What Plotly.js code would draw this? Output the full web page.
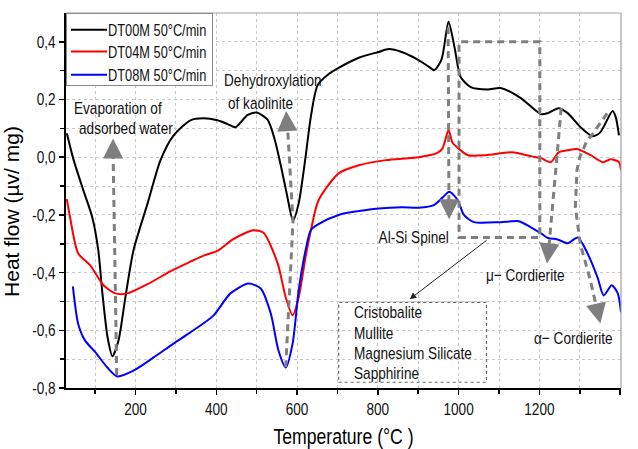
<!DOCTYPE html>
<html><head><meta charset="utf-8">
<script src="https://cdn.plot.ly/plotly-3.0.1.min.js"></script>
<style>html,body{margin:0;padding:0;background:#fff}#chart{width:638px;height:449px}</style>
</head><body><div id="chart"></div>
<script>
// ---- data ----
const seriesNames = ['DT00M 50°C/min', 'DT04M 50°C/min', 'DT08M 50°C/min'];
const seriesColors = ['#000000', '#ff0000', '#0000ff'];

const tempDT00M = [30, 47, 71, 93, 108, 118, 131, 143, 158, 175, 195, 230, 262, 294, 336, 368, 403, 428, 448, 477, 500, 527, 545, 560, 575, 590, 604, 621, 634, 651, 680, 703, 753, 802, 827, 859, 901, 925, 940, 958, 975, 990, 1005, 1030, 1072, 1104, 1154, 1204, 1221, 1248, 1270, 1302, 1332, 1351, 1381, 1389, 1397];
const flowDT00M = [0.083, -0.01, -0.115, -0.208, -0.323, -0.47, -0.625, -0.69, -0.635, -0.486, -0.323, -0.16, -0.01, 0.075, 0.128, 0.135, 0.128, 0.115, 0.104, 0.146, 0.155, 0.13, 0.06, -0.03, -0.13, -0.22, -0.16, 0.0, 0.139, 0.25, 0.29, 0.31, 0.345, 0.365, 0.375, 0.365, 0.337, 0.315, 0.302, 0.34, 0.47, 0.38, 0.278, 0.243, 0.235, 0.24, 0.205, 0.149, 0.153, 0.17, 0.153, 0.104, 0.073, 0.087, 0.16, 0.139, 0.076];

const tempDT04M = [30, 38, 58, 88, 121, 150, 180, 230, 287, 336, 370, 403, 443, 492, 517, 552, 572, 589, 604, 621, 634, 653, 703, 753, 820, 901, 946, 960, 975, 985, 1000, 1023, 1067, 1132, 1181, 1204, 1228, 1248, 1270, 1295, 1327, 1357, 1377, 1397, 1402];
const flowDT04M = [-0.145, -0.208, -0.333, -0.375, -0.444, -0.472, -0.472, -0.44, -0.395, -0.362, -0.34, -0.325, -0.283, -0.253, -0.262, -0.368, -0.486, -0.548, -0.486, -0.347, -0.255, -0.15, -0.056, -0.028, -0.01, 0.0, 0.014, 0.03, 0.094, 0.05, 0.03, 0.007, 0.007, 0.017, 0.003, -0.003, -0.017, 0.017, 0.024, 0.028, 0.007, -0.017, -0.007, -0.017, -0.045];

const tempDT08M = [45, 58, 75, 100, 131, 155, 195, 245, 294, 336, 393, 435, 480, 510, 535, 554, 572, 589, 604, 621, 634, 653, 703, 802, 859, 901, 940, 960, 977, 998, 1013, 1038, 1104, 1149, 1179, 1204, 1221, 1245, 1270, 1295, 1319, 1344, 1359, 1379, 1394, 1402];
const flowDT08M = [-0.448, -0.577, -0.635, -0.675, -0.73, -0.76, -0.74, -0.694, -0.646, -0.607, -0.549, -0.472, -0.438, -0.455, -0.542, -0.67, -0.729, -0.646, -0.462, -0.323, -0.253, -0.232, -0.2, -0.178, -0.173, -0.175, -0.165, -0.14, -0.12, -0.149, -0.2, -0.225, -0.225, -0.222, -0.243, -0.264, -0.28, -0.285, -0.298, -0.278, -0.333, -0.417, -0.479, -0.444, -0.472, -0.538];

const xTickVals = [200, 400, 600, 800, 1000, 1200, 1400];
const xTickText = ['200', '400', '600', '800', '1000', '1200', '1400'];
const xMinorVals = [100, 300, 500, 700, 900, 1100, 1300];
const yTickVals = [-0.8, -0.6, -0.4, -0.2, 0.0, 0.2, 0.4];
const yTickText = ['-0,8', '-0,6', '-0,4', '-0,2', '0,0', '0,2', '0,4'];
const yMinorVals = [-0.7, -0.5, -0.3, -0.1, 0.1, 0.3];

const boxLabels = ['Cristobalite', 'Mullite', 'Magnesium Silicate', 'Sapphirine'];

// ---- styling ----
const FONT = '"Liberation Sans", Arial, sans-serif';
const SQUEEZE = 0.8;   // the reference's lettering is horizontally condensed
const GRAY = '#7f7f7f';
const GRID = '#c8c8c8';

const temps = [tempDT00M, tempDT04M, tempDT08M];
const flows = [flowDT00M, flowDT04M, flowDT08M];
const traces = seriesNames.map((n, i) => ({
  x: temps[i], y: flows[i], name: n, type: 'scatter', mode: 'lines',
  line: {color: seriesColors[i], width: 2, shape: 'spline', smoothing: 0.7},
  cliponaxis: true
}));

function dashed(pts) {
  return {type: 'path', xref: 'x', yref: 'y', layer: 'above',
    path: 'M ' + pts.map(p => p[0] + ',' + p[1]).join(' L '),
    line: {color: GRAY, width: 3, dash: '7px,5px'}};
}
function head(x, y, ax, ay) {
  return {x: x, y: y, xref: 'x', yref: 'y', ax: ax, ay: ay, text: '', showarrow: true,
    arrowhead: 2, arrowsize: 1.15, arrowwidth: 3.5, arrowcolor: GRAY, standoff: 0};
}
function label(t, x, y, anchor) {
  return {x: x, y: y, xref: 'x', yref: 'y', text: t, showarrow: false,
    xanchor: anchor || 'left', yanchor: 'middle', font: {family: FONT, size: 17, color: '#111'}};
}

const shapes = [
  {type: 'line', xref: 'paper', yref: 'paper', x0: 0, x1: 1, y0: 1, y1: 1, line: {color: '#a0a0a0', width: 1.2}},
  {type: 'line', xref: 'paper', yref: 'paper', x0: 1, x1: 1, y0: 0, y1: 1, line: {color: '#a0a0a0', width: 1.2}},
  {type: 'rect', xref: 'x', yref: 'y', x0: 1001, x1: 1201, y0: -0.278, y1: 0.4, layer: 'above',
    line: {color: GRAY, width: 3, dash: '7px,5px'}},
  {type: 'rect', xref: 'x', yref: 'y', x0: 703, x1: 1069, y0: -0.780, y1: -0.503, layer: 'above',
    line: {color: '#666', width: 1.2, dash: 'dot'}},
  dashed([[153.6, -0.755], [144.5, 0.02]]),
  dashed([[572, -0.728], [590, -0.222], [576, 0.115]]),
  dashed([[974, 0.451], [976, -0.17]]),
  dashed([[1254, 0.170], [1223, -0.32]]),
  dashed([[1367.6, 0.152], [1330, 0.077], [1318, 0.059], [1300, 0.0], [1293, -0.045], [1289, -0.172], [1301, -0.299], [1326, -0.426], [1343, -0.53]])
];

const annotations = [
  label('Evaporation of', 44, 0.170),
  label('adsorbed water', 54, 0.100),
  label('Dehydroxylation', 413, 0.267),
  label('of kaolinite', 424, 0.187),
  label('Al-Si Spinel', 982, -0.278, 'right'),
  label('\u03bc\u2212 Cordierite', 1063, -0.411),
  label('\u03b1\u2212 Cordierite', 1181, -0.627),
  label(boxLabels[0], 735, -0.538),
  label(boxLabels[1], 735, -0.610),
  label(boxLabels[2], 735, -0.680),
  label(boxLabels[3], 735, -0.751),
  head(144.5, 0.065, 0, 18),
  head(573, 0.160, 1, 18),
  head(976.5, -0.215, 0, -18),
  head(1219, -0.368, 2, -18),
  head(1351, -0.576, -4, -18),
  {x: 879, y: -0.492, xref: 'x', yref: 'y', ax: 1073, ay: -0.284, axref: 'x', ayref: 'y',
    text: '', showarrow: true, arrowhead: 2, arrowsize: 1.3, arrowwidth: 1, arrowcolor: '#222', standoff: 0}
];

const layout = {
  width: 638, height: 449,
  margin: {l: 66, r: 17, t: 13, b: 61},
  paper_bgcolor: '#fff', plot_bgcolor: '#fff',
  font: {family: FONT, color: '#111'},
  showlegend: true,
  legend: {x: 0, y: 1, xanchor: 'left', yanchor: 'top', bgcolor: '#fff',
    bordercolor: '#888', borderwidth: 1, font: {family: FONT, size: 16, color: '#111'},
    tracegroupgap: 0},
  xaxis: {
    range: [28, 1402], tickvals: xTickVals, ticktext: xTickText,
    ticks: 'outside', ticklen: 5, tickwidth: 1.5, tickcolor: '#000',
    showline: true, linecolor: '#000', linewidth: 2, zeroline: false,
    showgrid: true, gridcolor: GRID, griddash: 'dot', gridwidth: 1,
    minor: {tickvals: xMinorVals, ticks: 'outside', ticklen: 4, tickcolor: '#000', showgrid: true, gridcolor: GRID, griddash: 'dot'},
    tickfont: {family: FONT, size: 17, color: '#111'},
    title: {text: 'Temperature (°C )', font: {family: FONT, size: 22, color: '#000'}, standoff: 12}
  },
  yaxis: {
    range: [-0.8, 0.5], tickvals: yTickVals, ticktext: yTickText,
    ticks: 'outside', ticklen: 5, tickwidth: 1.5, tickcolor: '#000',
    showline: true, linecolor: '#000', linewidth: 2, zeroline: false,
    showgrid: true, gridcolor: GRID, griddash: 'dot', gridwidth: 1,
    minor: {tickvals: yMinorVals, ticks: 'outside', ticklen: 4, tickcolor: '#000', showgrid: true, gridcolor: GRID, griddash: 'dot'},
    tickfont: {family: FONT, size: 17, color: '#111'},
    title: {text: 'Heat flow (\u00b5v/ mg)', font: {family: FONT, size: 21, color: '#000'}, standoff: 4}
  },
  shapes: shapes,
  annotations: annotations
};

function squeezeEl(el) {
  const L = el.getComputedTextLength();
  if (L > 0) {
    el.setAttribute('textLength', (L * SQUEEZE).toFixed(2));
    el.setAttribute('lengthAdjust', 'spacingAndGlyphs');
  }
  return L;
}

// legend row geometry (px, relative to the legend frame)
const legendRowY = [16.7, 38.5, 61.7];
const legendFrame = {w: 146, h: 72};
const yTitleShift = [3, 11];

Plotly.newPlot('chart', traces, layout, {displayModeBar: false, staticPlot: true}).then(gd => {
  // annotations: keep their anchored edge in place
  gd.querySelectorAll('g.annotation').forEach(g => {
    const idx = +g.getAttribute('data-index');
    const t = g.querySelector('text.annotation-text');
    if (!t || !t.textContent) return;
    const a = layout.annotations[idx] || {};
    const before = t.getBBox();
    squeezeEl(t);
    const after = t.getBBox();
    let dx = 0;
    if (a.xanchor === 'left') dx = before.x - after.x;
    else if (a.xanchor === 'right') dx = (before.x + before.width) - (after.x + after.width);
    if (dx) t.setAttribute('transform', ((t.getAttribute('transform') || '') + ' translate(' + dx.toFixed(2) + ',0)').trim());
  });
  // tick labels and x title
  gd.querySelectorAll('g.xtick text, g.ytick text, text.xtitle').forEach(squeezeEl);
  // y title placement as in the reference
  const yt = gd.querySelector('g.g-ytitle');
  if (yt) yt.setAttribute('transform', 'translate(' + yTitleShift[0] + ',' + yTitleShift[1] + ')');
  // legend: condensed text, reference row spacing and frame size
  try {
    gd.querySelectorAll('g.legend text.legendtext').forEach(t => {
      squeezeEl(t);
      t.setAttribute('x', '41');
    });
    gd.querySelectorAll('g.legend g.legendlines path').forEach(p => p.setAttribute('d', 'M4,0h36'));
    const rows = gd.querySelectorAll('g.legend g.traces');
    rows.forEach((r, i) => {
      const tr = r.getAttribute('transform') || '';
      const m = tr.match(/translate\(\s*([-\d.]+)[ ,]+([-\d.]+)\s*\)/);
      const x = m ? m[1] : 0;
      if (i < legendRowY.length) r.setAttribute('transform', 'translate(' + x + ',' + legendRowY[i] + ')');
    });
    const bg = gd.querySelector('g.legend rect.bg');
    if (bg) { bg.setAttribute('width', legendFrame.w); bg.setAttribute('height', legendFrame.h); }
  } catch (e) {}
});
</script>
</body></html>
